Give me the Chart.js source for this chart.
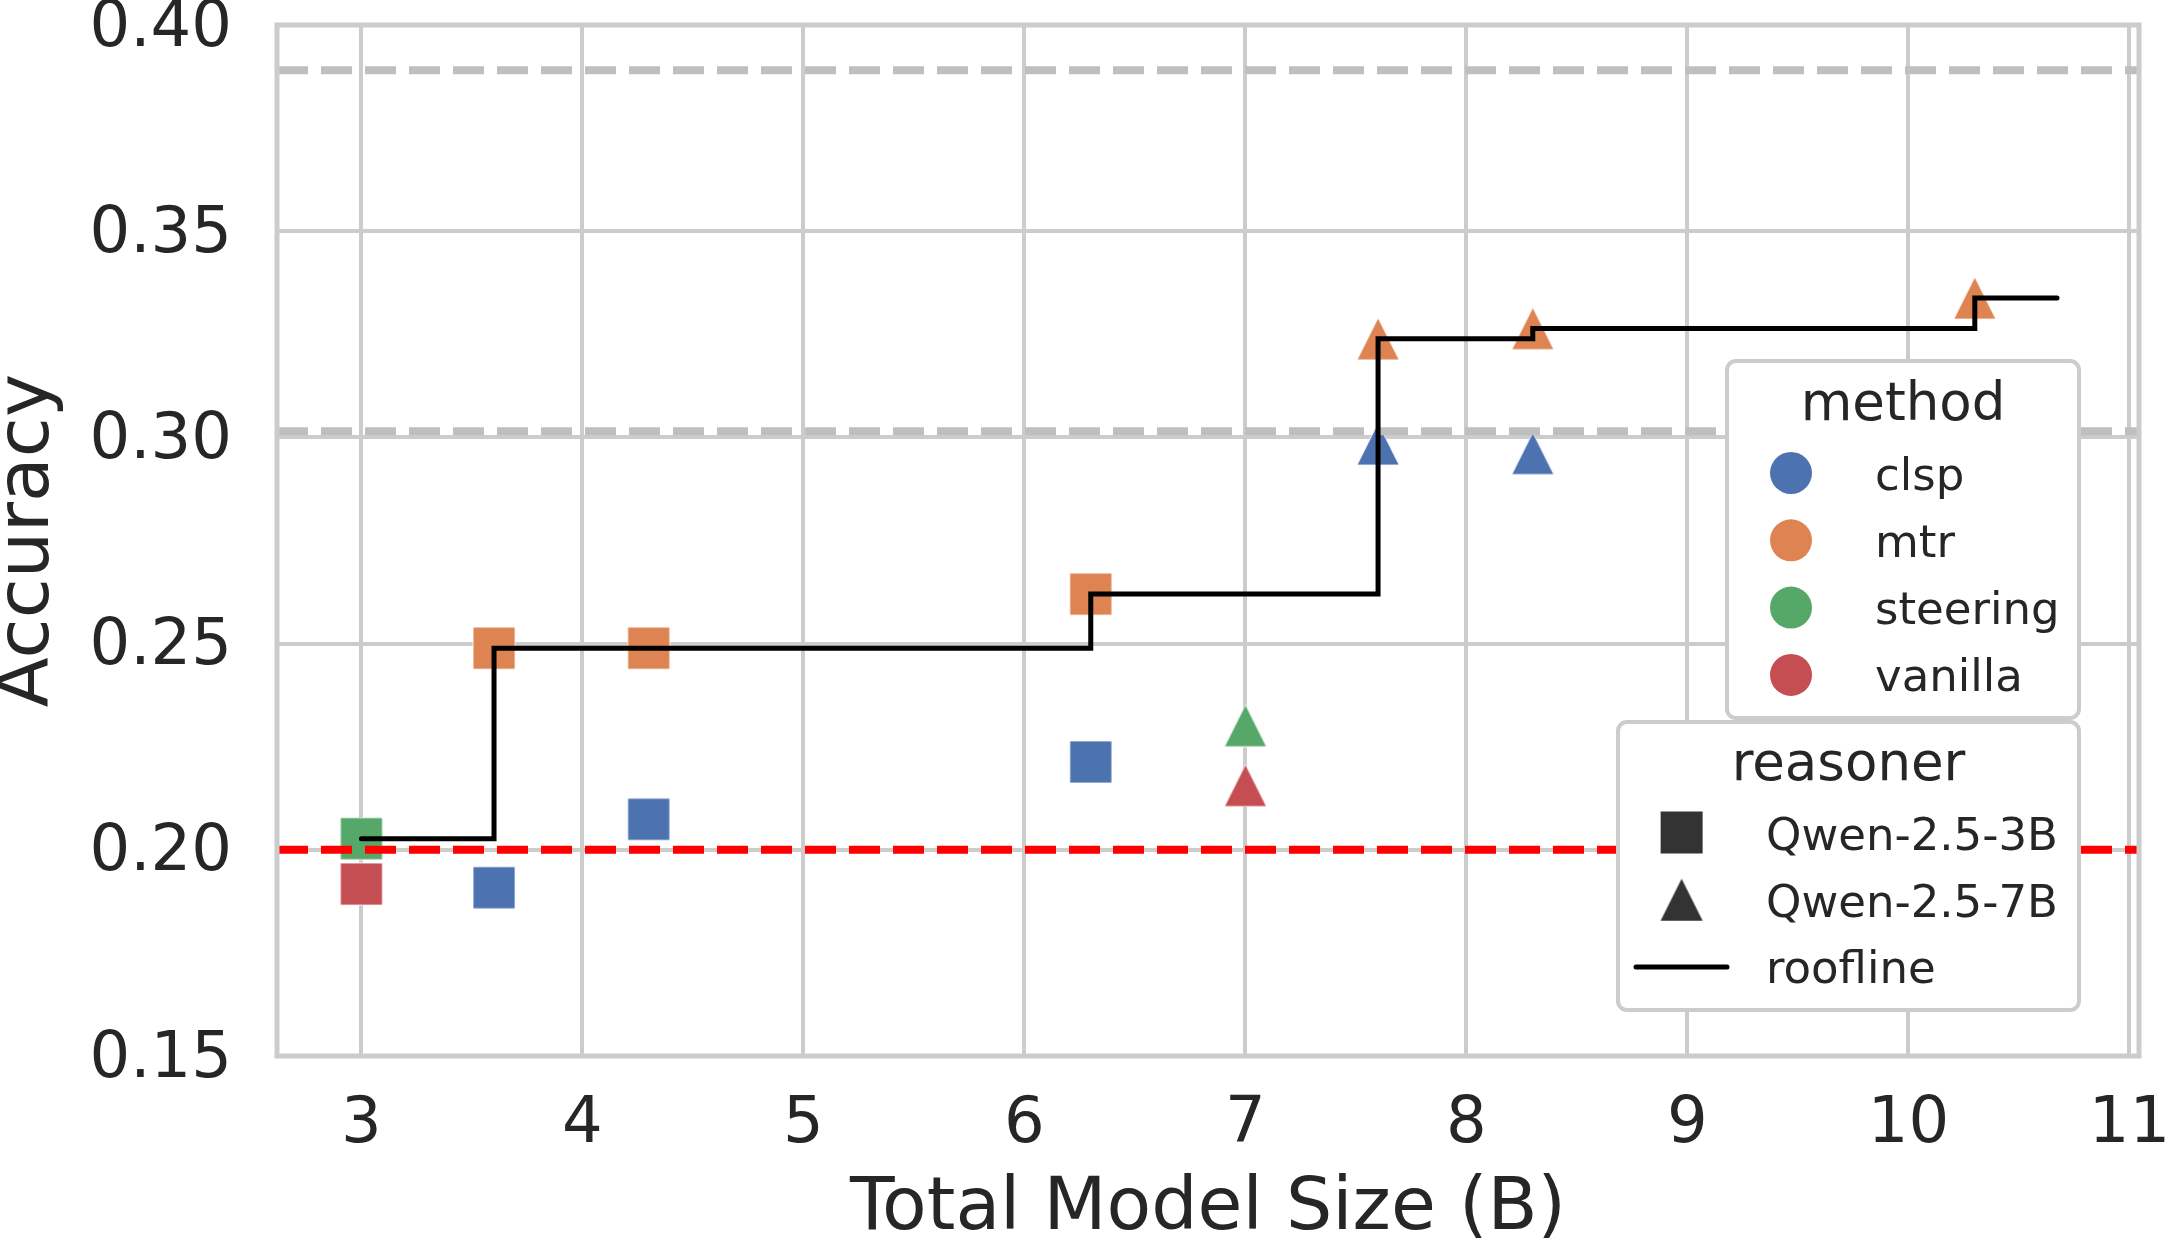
<!DOCTYPE html>
<html>
<head>
<meta charset="utf-8">
<script src="https://cdn.jsdelivr.net/npm/chart.js@4.4.1/dist/chart.umd.min.js"></script>
<style>
  html, body { margin: 0; padding: 0; background: #fff; }
  #wrap { width: 2165px; height: 1242px; }
</style>
</head>
<body>
<div id="wrap"><canvas id="myChart" width="2165" height="1242"></canvas></div>
<script>
var methods = ['clsp', 'mtr', 'steering', 'vanilla'];
var methodColors = ['#4C72B0', '#DD8452', '#55A868', '#C44E52'];
var reasoners = ['Qwen-2.5-3B', 'Qwen-2.5-7B'];
var reasonerShapes = ['square', 'triangle'];

// one entry per run
var runSize = [3, 3, 3.6, 3.6, 4.3, 4.3, 6.3, 6.3, 7, 7, 7.6, 7.6, 8.3, 8.3, 10.3];
var runAcc = [0.1917, 0.2027, 0.1908, 0.2489, 0.2489, 0.2074, 0.2620, 0.2213,
              0.2301, 0.2156, 0.3239, 0.2984, 0.3264, 0.2961, 0.3338];
var runMethod = ['vanilla', 'steering', 'clsp', 'mtr', 'mtr', 'clsp', 'mtr', 'clsp',
                 'steering', 'vanilla', 'mtr', 'clsp', 'mtr', 'clsp', 'mtr'];
var runReasoner = ['Qwen-2.5-3B', 'Qwen-2.5-3B', 'Qwen-2.5-3B', 'Qwen-2.5-3B',
                   'Qwen-2.5-3B', 'Qwen-2.5-3B', 'Qwen-2.5-3B', 'Qwen-2.5-3B',
                   'Qwen-2.5-7B', 'Qwen-2.5-7B', 'Qwen-2.5-7B', 'Qwen-2.5-7B',
                   'Qwen-2.5-7B', 'Qwen-2.5-7B', 'Qwen-2.5-7B'];

var rooflineX = [3, 3.6, 6.3, 7.6, 8.3, 10.3, 10.672];
var rooflineY = [0.2027, 0.2489, 0.2620, 0.3239, 0.3264, 0.3338, 0.3338];

var redBaseline = 0.20;
var grayBaselines = [0.3015, 0.389];

var xTicks = [3, 4, 5, 6, 7, 8, 9, 10, 11];
var yTicks = [0.15, 0.20, 0.25, 0.30, 0.35, 0.40];
var xMin = 2.618, xMax = 11.043;
var yMin = 0.15, yMax = 0.40;

var FONT = '"DejaVu Sans", sans-serif';
var TEXT = '#262626';

function markerImage(shape, color, edge) {
  var c = document.createElement('canvas');
  c.width = 44; c.height = 44;
  var g = c.getContext('2d');
  g.fillStyle = color;
  g.strokeStyle = edge;
  g.lineWidth = 1;
  g.beginPath();
  if (shape === 'square') {
    g.rect(1, 1, 42, 42);
  } else {
    g.moveTo(22, 1); g.lineTo(43, 43); g.lineTo(1, 43); g.closePath();
  }
  g.fill();
  if (edge) g.stroke();
  return c;
}

function hline(y, color, width, dash) {
  return {
    type: 'line',
    data: [{x: xMin, y: y}, {x: xMax, y: y}],
    borderColor: color,
    borderWidth: width,
    borderDash: dash,
    pointRadius: 0,
    fill: false
  };
}

var datasets = [];
datasets.push({
  type: 'line',
  label: 'roofline',
  data: rooflineX.map(function (x, i) { return {x: x, y: rooflineY[i]}; }),
  borderColor: '#000',
  borderWidth: 5,
  borderCapStyle: 'round',
  stepped: true,
  pointRadius: 0,
  fill: false
});
datasets.push(hline(redBaseline, '#ff0000', 8, [31, 13]));
grayBaselines.forEach(function (v) { datasets.push(hline(v, '#bfbfbf', 8, [31, 13])); });

reasoners.forEach(function (r, ri) {
  methods.forEach(function (m, mi) {
    var pts = [];
    for (var i = 0; i < runSize.length; i++) {
      if (runMethod[i] === m && runReasoner[i] === r) pts.push({x: runSize[i], y: runAcc[i]});
    }
    if (!pts.length) return;
    datasets.push({
      type: 'scatter',
      label: m + ' / ' + r,
      data: pts,
      pointStyle: markerImage(reasonerShapes[ri], methodColors[mi], 'rgba(255,255,255,0.8)'),
      pointRadius: 21,
      backgroundColor: methodColors[mi]
    });
  });
});

function drawLegendBox(ctx, x1, y1, x2, y2) {
  var r = 9;
  ctx.save();
  ctx.beginPath();
  ctx.moveTo(x1 + r, y1);
  ctx.arcTo(x2, y1, x2, y2, r);
  ctx.arcTo(x2, y2, x1, y2, r);
  ctx.arcTo(x1, y2, x1, y1, r);
  ctx.arcTo(x1, y1, x2, y1, r);
  ctx.closePath();
  ctx.fillStyle = '#ffffff';
  ctx.fill();
  ctx.lineWidth = 4;
  ctx.strokeStyle = '#cccccc';
  ctx.stroke();
  ctx.restore();
}

var framePlugin = {
  id: 'frameAndLegends',
  afterDraw: function (chart) {
    var ctx = chart.ctx, a = chart.chartArea;
    ctx.save();
    ctx.lineWidth = 5;
    ctx.strokeStyle = '#cccccc';
    ctx.strokeRect(a.left, a.top, a.right - a.left, a.bottom - a.top);

    // method legend
    drawLegendBox(ctx, 1727, 361, 2079, 718);
    ctx.fillStyle = TEXT;
    ctx.textBaseline = 'alphabetic';
    ctx.textAlign = 'center';
    ctx.font = '53px ' + FONT;
    ctx.fillText('method', 1903, 420);
    ctx.font = '45px ' + FONT;
    methods.forEach(function (m, i) {
      var cy = 473 + i * 67.3;
      ctx.beginPath();
      ctx.arc(1791, cy, 21, 0, Math.PI * 2);
      ctx.fillStyle = methodColors[i];
      ctx.fill();
      ctx.fillStyle = TEXT;
      ctx.textAlign = 'left';
      ctx.fillText(m, 1875, cy + 16.5);
    });

    // reasoner legend
    drawLegendBox(ctx, 1618, 722, 2079, 1010);
    ctx.textAlign = 'center';
    ctx.font = '53px ' + FONT;
    ctx.fillStyle = TEXT;
    ctx.fillText('reasoner', 1848.5, 780);
    ctx.font = '45px ' + FONT;
    reasoners.forEach(function (r, i) {
      var cy = 832.5 + i * 67.2;
      var img = markerImage(reasonerShapes[i], '#333333', null);
      ctx.drawImage(img, 1681.6 - 22, cy - 22);
      ctx.fillStyle = TEXT;
      ctx.textAlign = 'left';
      ctx.fillText(r, 1766, cy + 17.5);
    });
    var ly = 832.5 + 2 * 67.2;
    ctx.beginPath();
    ctx.moveTo(1636, ly);
    ctx.lineTo(1727, ly);
    ctx.lineWidth = 5;
    ctx.lineCap = 'round';
    ctx.strokeStyle = '#000';
    ctx.stroke();
    ctx.fillStyle = TEXT;
    ctx.fillText('roofline', 1766, ly + 16.5);
    ctx.restore();
  }
};

var ctx = document.getElementById('myChart');
new Chart(ctx, {
  type: 'scatter',
  data: { datasets: datasets },
  plugins: [framePlugin],
  options: {
    responsive: false,
    animation: false,
    events: [],
    layout: { padding: { top: 25, right: 26, left: 0, bottom: 0 } },
    plugins: { legend: { display: false }, tooltip: { enabled: false } },
    scales: {
      x: {
        type: 'linear',
        min: xMin,
        max: xMax,
        afterBuildTicks: function (s) { s.ticks = xTicks.map(function (v) { return {value: v}; }); },
        afterFit: function (s) { s.height = 186; s.paddingLeft = 0; s.paddingRight = 0; },
        grid: { color: '#cccccc', lineWidth: 4, drawTicks: false },
        border: { display: false },
        ticks: {
          color: TEXT,
          padding: 31,
          maxRotation: 0,
          autoSkip: false,
          font: { family: FONT, size: 64 },
          callback: function (v) { return String(v); }
        },
        title: {
          display: true,
          text: 'Total Model Size (B)',
          color: TEXT,
          font: { family: FONT, size: 73, lineHeight: 0.9 },
          padding: { top: 0, bottom: -1 }
        }
      },
      y: {
        type: 'linear',
        min: yMin,
        max: yMax,
        afterBuildTicks: function (s) { s.ticks = yTicks.map(function (v) { return {value: v}; }); },
        afterFit: function (s) { s.width = 277; s.paddingTop = 0; s.paddingBottom = 0; },
        grid: { color: '#cccccc', lineWidth: 4, drawTicks: false },
        border: { display: false },
        ticks: {
          color: TEXT,
          padding: 45,
          labelOffset: 4,
          autoSkip: false,
          font: { family: FONT, size: 64 },
          callback: function (v) { return v.toFixed(2); }
        },
        title: {
          display: true,
          text: 'Accuracy',
          color: TEXT,
          font: { family: FONT, size: 73, lineHeight: 0.8 },
          padding: { top: 0, bottom: 0 }
        }
      }
    }
  }
});
</script>
</body>
</html>
